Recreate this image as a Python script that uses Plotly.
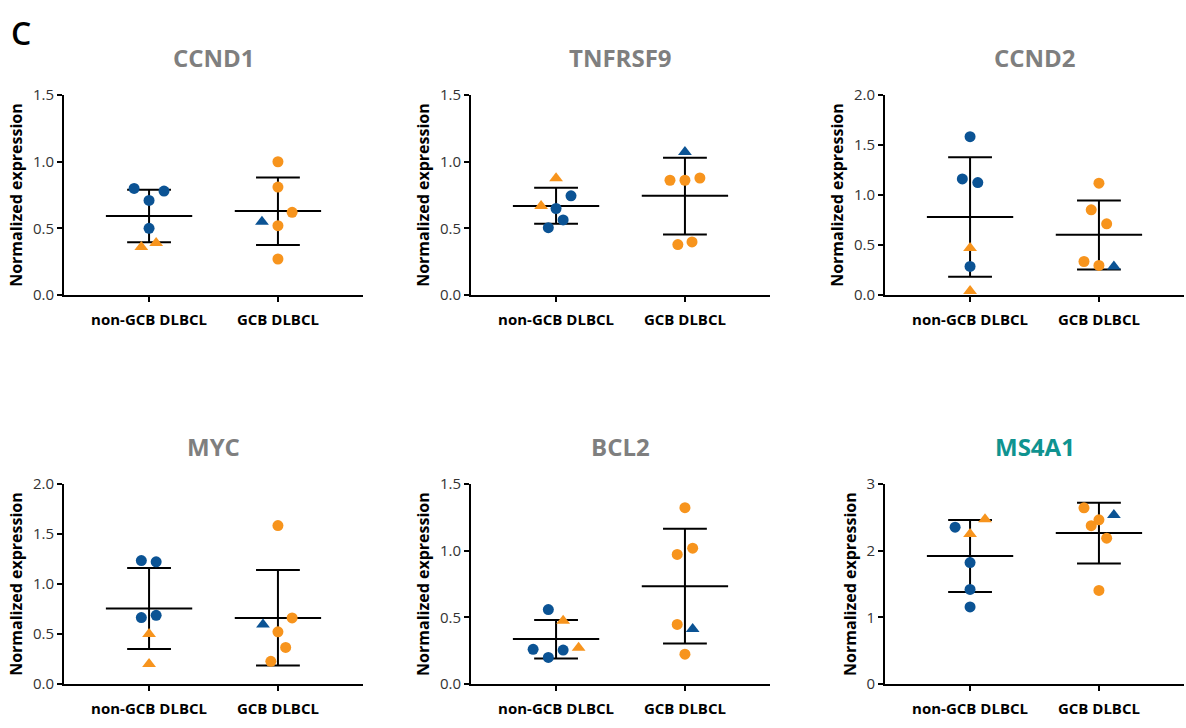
import plotly.graph_objects as go

W, H = 1186, 728

genes = ["CCND1", "TNFRSF9", "CCND2", "MYC", "BCL2", "MS4A1"]
categories = ["non-GCB DLBCL", "GCB DLBCL"]
y_max = [1.5, 1.5, 2.0, 2.0, 1.5, 3.0]
y_dtick = [0.5, 0.5, 0.5, 0.5, 0.5, 1.0]

# non-GCB: blue circles, orange triangles ; GCB: orange circles, blue triangles
nongcb_circles = [
    [0.80, 0.78, 0.71, 0.50],
    [0.649, 0.744, 0.563, 0.505],
    [1.584, 1.161, 1.125, 0.286],
    [1.235, 1.222, 0.665, 0.687],
    [0.559, 0.26, 0.255, 0.199],
    [2.353, 1.823, 1.42, 1.157],
]
nongcb_triangles = [
    [0.36, 0.39],
    [0.876, 0.668],
    [0.47, 0.04],
    [0.50, 0.20],
    [0.474, 0.272],
    [2.474, 2.25],
]
gcb_circles = [
    [1.00, 0.81, 0.52, 0.27, 0.62],
    [0.861, 0.861, 0.878, 0.378, 0.398],
    [1.119, 0.852, 0.712, 0.335, 0.296],
    [1.585, 0.661, 0.522, 0.366, 0.227],
    [1.323, 1.019, 0.972, 0.447, 0.224],
    [2.645, 2.465, 2.377, 2.188, 1.404],
]
gcb_triangles = [
    [0.55],
    [1.073],
    [0.286],
    [0.596],
    [0.413],
    [2.538],
]
# horizontal scatter offsets (category units)
nongcb_circles_dx = [
    [-0.116, 0.116, 0, 0],
    [0, 0.116, 0.055, -0.06],
    [0, -0.06, 0.06, 0],
    [-0.06, 0.055, -0.06, 0.055],
    [-0.06, -0.178, 0.055, -0.06],
    [-0.116, 0, 0, 0],
]
nongcb_triangles_dx = [
    [-0.06, 0.055],
    [0, -0.116],
    [0, 0],
    [0, 0],
    [0.055, 0.175],
    [0.116, 0],
]
gcb_circles_dx = [
    [0, 0, 0, 0, 0.11],
    [-0.116, 0, 0.116, -0.055, 0.055],
    [0, -0.06, 0.06, -0.116, 0],
    [0, 0.11, 0, 0.06, -0.055],
    [0, 0.06, -0.06, -0.06, 0],
    [-0.116, 0, -0.06, 0.06, 0],
]
gcb_triangles_dx = [
    [-0.124],
    [0],
    [0.116],
    [-0.116],
    [0.06],
    [0.116],
]
# mean, lower (mean-SD), upper (mean+SD) per category
mean_vals = [[0.592, 0.631], [0.668, 0.744], [0.780, 0.602],
             [0.755, 0.661], [0.338, 0.734], [1.920, 2.265]]
sd_low = [[0.396, 0.376], [0.534, 0.454], [0.182, 0.254],
          [0.350, 0.185], [0.192, 0.304], [1.381, 1.808]]
sd_high = [[0.79, 0.881], [0.805, 1.029], [1.379, 0.946],
           [1.160, 1.141], [0.481, 1.165], [2.460, 2.722]]

BLUE = "#0b5394"
ORANGE = "#f7941d"
TITLE_GRAY = "#7f7f7f"
TEAL = "#0f9390"
FONT = "Open Sans"

# panel geometry in pixels
x_px = [(64, 363), (471, 770), (885, 1184)]
y_px = [(86.5, 292), (486.5, 692)]

fig = go.Figure()
layout = dict()

for i, g in enumerate(genes):
    r, c = divmod(i, 3)
    xa = "x" if i == 0 else f"x{i+1}"
    ya = "y" if i == 0 else f"y{i+1}"
    xk = "xaxis" if i == 0 else f"xaxis{i+1}"
    yk = "yaxis" if i == 0 else f"yaxis{i+1}"
    x0, x1 = x_px[c]
    y0, y1 = y_px[r]
    layout[xk] = dict(
        domain=[x0 / W, x1 / W], anchor=ya, range=[-0.66, 1.66],
        tickvals=[0, 1], ticktext=categories, showgrid=False, zeroline=False,
        showline=True, linecolor="black", linewidth=2, ticks="outside",
        ticklen=5, tickwidth=2, tickcolor="black", ticklabelstandoff=5,
        tickfont=dict(family=FONT, size=15, color="black", weight="bold"),
        fixedrange=True,
    )
    nt = int(round(y_max[i] / y_dtick[i]))
    tv = [k * y_dtick[i] for k in range(nt + 1)]
    tt = [f"{v:.0f}" if y_dtick[i] >= 1 else f"{v:.1f}" for v in tv]
    layout[yk] = dict(
        domain=[1 - y1 / H, 1 - y0 / H], anchor=xa, range=[0, y_max[i]],
        tickvals=tv, ticktext=tt, showgrid=False, zeroline=False,
        showline=True, linecolor="black", linewidth=2, ticks="outside",
        ticklen=5, tickwidth=2, tickcolor="black",
        tickfont=dict(family=FONT, size=15, color="#333333"),
        title=dict(text="Normalized expression", standoff=6,
                   font=dict(family=FONT, size=16, color="black", weight="bold")),
        fixedrange=True,
    )

    # mean and SD lines
    lx, ly = [], []
    for k in range(2):
        m, lo, hi = mean_vals[i][k], sd_low[i][k], sd_high[i][k]
        lx += [k - 0.335, k + 0.335, None, k, k, None,
               k - 0.17, k + 0.17, None, k - 0.17, k + 0.17, None]
        ly += [m, m, None, lo, hi, None, lo, lo, None, hi, hi, None]
    fig.add_trace(go.Scatter(x=lx, y=ly, mode="lines", xaxis=xa, yaxis=ya,
                             line=dict(color="black", width=2),
                             hoverinfo="skip", showlegend=False))

    groups = [
        (0, nongcb_circles[i], nongcb_circles_dx[i], BLUE, "circle"),
        (0, nongcb_triangles[i], nongcb_triangles_dx[i], ORANGE, "triangle-up"),
        (1, gcb_circles[i], gcb_circles_dx[i], ORANGE, "circle"),
        (1, gcb_triangles[i], gcb_triangles_dx[i], BLUE, "triangle-up"),
    ]
    for cat, vals, dxs, col, sym in groups:
        fig.add_trace(go.Scatter(
            x=[cat + d for d in dxs], y=vals, mode="markers", xaxis=xa, yaxis=ya,
            marker=dict(color=col, symbol=sym, size=11 if sym == "circle" else 12,
                        line=dict(width=0)),
            showlegend=False))

    fig.add_annotation(
        text=g, xref="paper", yref="paper",
        x=(x0 + x1) / 2 / W, y=1 - (y0 - 39) / H, xanchor="center", yanchor="middle",
        showarrow=False,
        font=dict(family=FONT, size=24, weight="bold",
                  color=TEAL if g == "MS4A1" else TITLE_GRAY))

fig.add_annotation(text="C", xref="paper", yref="paper", x=9 / W, y=1 - 22 / H,
                   xanchor="left", yanchor="middle", showarrow=False,
                   font=dict(family=FONT, size=32, color="black", weight=600))

fig.update_layout(
    width=W, height=H, margin=dict(l=0, r=0, t=0, b=0),
    plot_bgcolor="white", paper_bgcolor="white", showlegend=False,
    **layout,
)
fig.write_html("out.html")
